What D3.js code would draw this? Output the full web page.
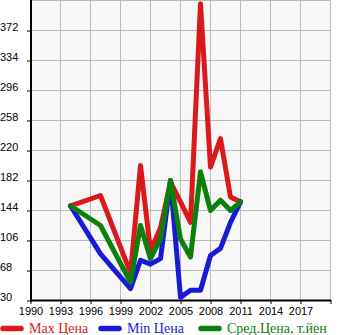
<!DOCTYPE html>
<html><head><meta charset="utf-8">
<script src="https://cdn.jsdelivr.net/npm/d3@7"></script>
<style>
html,body{margin:0;padding:0;background:#fff;}
svg{display:block;}
</style></head>
<body>
<svg id="chart" width="345" height="335"></svg>
<script>
const years = [1994,1997,2000,2001,2002,2003,2004,2005,2006,2007,2008,2009,2010,2011];
const maxPrice = [150,163,65,201,93,122,180,155,129,406,199,235,161,155];
const minPrice = [150,89,45,81,76,83,182,34,43,43,87,96,129,155];
const avgPrice = [150,125,53,125,83,108,182,108,85,193,144,157,144,155];
const xTicks = [1990,1993,1996,1999,2002,2005,2008,2011,2014,2017];
const yTicks = [30,68,106,144,182,220,258,296,334,372];
const seriesNames = ["Max Цена","Min Цена","Сред.Цена, т.йен"];
const seriesColors = ["#d9191c","#1a1ad6","#0b800b"];

const svg = d3.select("#chart");
const x = d3.scaleLinear().domain([1990,2020]).range([30.5,330.5]);
const y = d3.scaleLinear().domain([30,410]).range([300.5,0.5]);

// plot background
svg.append("rect").attr("x",x(1990)).attr("y",y(410)).attr("width",x(2020)-x(1990)).attr("height",y(30)-y(410)).attr("fill","#f7f7f7");

// grid
const gx = d3.range(1993,2021,3);
svg.append("g").selectAll("line").data(gx).join("line")
  .attr("x1",d=>x(d)).attr("x2",d=>x(d)).attr("y1",y(410)).attr("y2",y(30))
  .attr("stroke","#bbbbbb").attr("stroke-width",1);
const gy = yTicks.slice(1).concat([410]);
svg.append("g").selectAll("line").data(gy).join("line")
  .attr("x1",x(1990)).attr("x2",x(2020)).attr("y1",d=>y(d)).attr("y2",d=>y(d))
  .attr("stroke","#bbbbbb").attr("stroke-width",1);

// axes
const yAxis = d3.axisLeft(y).tickValues(yTicks).tickSize(4).tickSizeOuter(0);
const ya = svg.append("g").attr("transform","translate(31,0)").call(yAxis);
ya.select(".domain").remove();
ya.selectAll(".tick line").attr("stroke","#000");
ya.selectAll(".tick text").attr("x",-31).attr("dy",0).attr("text-anchor","start")
  .attr("font-family","Liberation Sans, Arial, sans-serif").attr("font-size","11px").attr("fill","#000");

const xAxis = d3.axisBottom(x).tickValues(xTicks.concat([2020])).tickSize(4).tickSizeOuter(0)
  .tickFormat(d=> d===2020 ? "" : d3.format("d")(d));
const xa = svg.append("g").attr("transform","translate(0,300)").call(xAxis);
xa.select(".domain").remove();
xa.selectAll(".tick line").attr("stroke","#000");
xa.selectAll(".tick text").attr("y",15).attr("dy",0)
  .attr("font-family","Liberation Sans, Arial, sans-serif").attr("font-size","11px").attr("fill","#000");

svg.append("line").attr("x1",30).attr("x2",331).attr("y1",300.5).attr("y2",300.5).attr("stroke","#000").attr("stroke-width",2);
svg.append("line").attr("x1",31).attr("x2",31).attr("y1",0).attr("y2",301.5).attr("stroke","#000").attr("stroke-width",2);

// lines
const line = d3.line().x(d=>x(d[0])).y(d=>y(d[1]));
[maxPrice,minPrice,avgPrice].forEach((vals,i)=>{
  svg.append("path").datum(years.map((yr,j)=>[yr,vals[j]]))
    .attr("d",line).attr("fill","none").attr("stroke",seriesColors[i])
    .attr("stroke-width",5).attr("stroke-linejoin","round").attr("stroke-linecap","round");
});

// legend
const legX = [3,101,201];
seriesNames.forEach((n,i)=>{
  svg.append("line").attr("x1",legX[i]).attr("x2",legX[i]+18).attr("y1",328.5).attr("y2",328.5)
    .attr("stroke",seriesColors[i]).attr("stroke-width",5.5).attr("stroke-linecap","round");
  svg.append("text").attr("x",legX[i]+26).attr("y",333).text(n)
    .attr("font-family","Liberation Serif, Times New Roman, serif").attr("font-size","14px").attr("fill",seriesColors[i]);
});
</script>
</body></html>
